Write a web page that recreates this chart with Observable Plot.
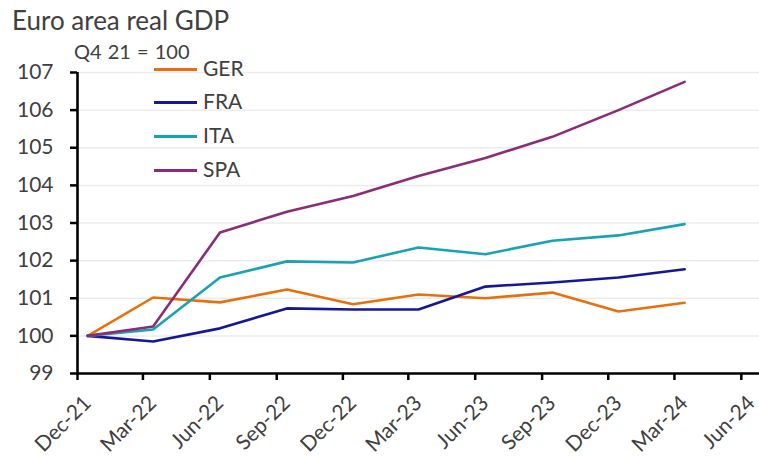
<!DOCTYPE html>
<html>
<head>
<meta charset="utf-8">
<script src="https://cdn.jsdelivr.net/npm/d3@7"></script>
<script src="https://cdn.jsdelivr.net/npm/@observablehq/plot@0.6"></script>
<style>
  body { margin: 0; background: #fff; }
  #wrap { position: relative; width: 759px; height: 457px; font-family: Lato, sans-serif; color: #404040; }
  #chart { position: absolute; left: 0; top: 0; }
  #title { position: absolute; left: 12px; top: 7px; font-size: 26px; line-height: 1; white-space: nowrap; }
  #subtitle { position: absolute; left: 74px; top: 41px; font-size: 20px; line-height: 1; white-space: nowrap; word-spacing: 1px; }
  #legend { position: absolute; left: 154px; top: 0; }
  .item { position: absolute; left: 0; height: 0; white-space: nowrap; }
  .swatch { position: absolute; left: 0; top: -1.5px; width: 43px; height: 3px; }
  .lab { position: absolute; left: 49px; top: -12px; font-size: 21px; line-height: 1; }
</style>
</head>
<body>
<div id="wrap">
  <div id="chart"></div>
  <div id="title"></div>
  <div id="subtitle"></div>
  <div id="legend"></div>
</div>
<script>
const titleText = "Euro area real GDP";
const subtitleText = "Q4 21 = 100";
const quarters = ["2021-12-15","2022-03-15","2022-06-15","2022-09-15","2022-12-15","2023-03-15","2023-06-15","2023-09-15","2023-12-15","2024-03-15"];
const series = ["GER","FRA","ITA","SPA"];
const colors = ["#E8700C","#16169A","#18A2B4","#8B2C77"];
const GER = [100, 101.02, 100.89, 101.23, 100.84, 101.10, 101.00, 101.15, 100.65, 100.88];
const FRA = [100, 99.85, 100.20, 100.73, 100.70, 100.70, 101.31, 101.42, 101.55, 101.77];
const ITA = [100, 100.17, 101.55, 101.98, 101.95, 102.35, 102.17, 102.53, 102.67, 102.97];
const SPA = [100, 100.25, 102.75, 103.30, 103.72, 104.25, 104.73, 105.29, 106.00, 106.75];
const xTicks = ["2021-12-01","2022-03-01","2022-06-01","2022-09-01","2022-12-01","2023-03-01","2023-06-01","2023-09-01","2023-12-01","2024-03-01","2024-06-01"];
const xDomain = ["2021-12-01","2024-06-26"];
const yTicks = [99,100,101,102,103,104,105,106,107];
const yDomain = [99,107];

const values = {GER, FRA, ITA, SPA};
const data = series.flatMap(s => quarters.map((q, i) => ({series: s, date: new Date(q), value: values[s][i]})));
const xStart = new Date(xDomain[0]);
const xTickDates = xTicks.map(d => new Date(d));
const fmt = d3.utcFormat("%b-%y");
const blank = () => "";

const chart = Plot.plot({
  width: 759,
  height: 457,
  marginTop: 72,
  marginBottom: 84,
  marginLeft: 77,
  marginRight: 0,
  style: {fontFamily: "Lato, sans-serif", fontSize: "21px", color: "#404040", background: "white", overflow: "visible"},
  x: {type: "utc", domain: xDomain.map(d => new Date(d))},
  y: {domain: yDomain},
  color: {domain: series, range: colors},
  marks: [
    Plot.gridY(yTicks, {stroke: "#ececec", strokeOpacity: 1, strokeWidth: 1.5}),
    Plot.line(data, {x: "date", y: "value", z: "series", stroke: "series", strokeWidth: 2.6, strokeLinejoin: "round"}),
    Plot.ruleY([yDomain[0]], {stroke: "black", strokeWidth: 2.6}),
    Plot.ruleX([xStart], {stroke: "black", strokeWidth: 2.6}),
    Plot.axisY(yTicks, {tickSize: 7, tickFormat: blank, stroke: "black", strokeWidth: 2.5, label: null}),
    Plot.axisX(xTickDates, {tickSize: 7, tickFormat: blank, stroke: "black", strokeWidth: 2.5, label: null}),
    Plot.text(yTicks, {y: d => d, frameAnchor: "left", textAnchor: "end", lineAnchor: "middle", dx: -24, fill: "#404040", fontSize: 21}),
    Plot.text(xTickDates, {x: d => d, frameAnchor: "bottom", text: fmt, rotate: -45, textAnchor: "end", lineAnchor: "middle", dx: 10, dy: 26, fill: "#404040", fontSize: 21})
  ]
});
document.getElementById("chart").appendChild(chart);
document.getElementById("title").textContent = titleText;
document.getElementById("subtitle").textContent = subtitleText;

const legendY = [69, 102, 136, 170];
const legend = document.getElementById("legend");
series.forEach((s, i) => {
  const item = document.createElement("div");
  item.className = "item";
  item.style.top = legendY[i] + "px";
  const sw = document.createElement("div");
  sw.className = "swatch";
  sw.style.background = colors[i];
  const lab = document.createElement("div");
  lab.className = "lab";
  lab.textContent = s;
  item.appendChild(sw);
  item.appendChild(lab);
  legend.appendChild(item);
});
</script>
</body>
</html>
